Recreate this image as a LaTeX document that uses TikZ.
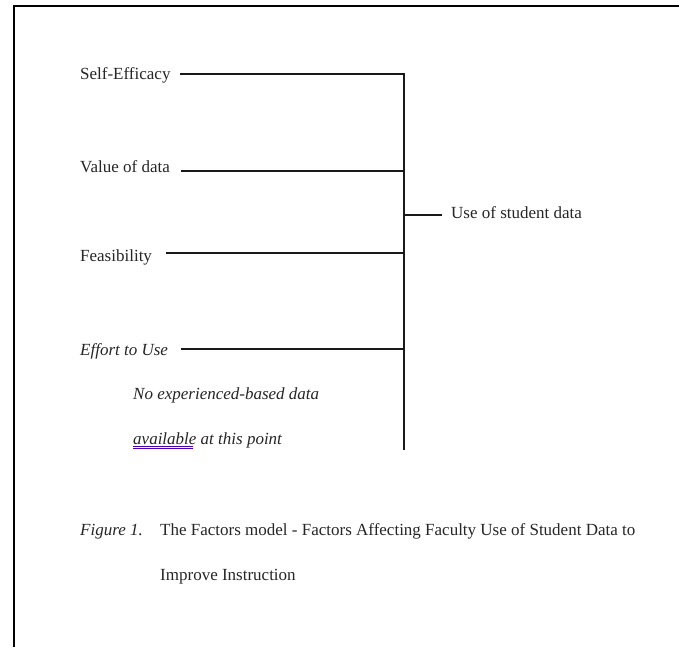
\documentclass[tikz,border=0pt]{standalone}
\usepackage{fontspec}
\setmainfont{Liberation Serif}
\begin{document}
\begin{tikzpicture}[x=1pt,y=-1pt,
  lbl/.style={anchor=base west, inner sep=0pt, font=\fontsize{17}{19}\selectfont, text=black!85},
  conn/.style={line width=2.4pt, black!90}]
\useasboundingbox (0,0) rectangle (679,647);
\fill[white] (0,0) rectangle (679,647);
\draw[line width=2.6pt] (14,647) -- (14,6) -- (679,6);
% factor labels
\node[lbl] (se) at (80,80) {Self-Efficacy};
\node[lbl] (vd) at (80,172) {Value of data};
\node[lbl] (fe) at (80,261) {Feasibility};
\node[lbl] (ef) at (80,355) {\itshape Effort to Use};
\node[lbl] (n1) at (133,399) {\itshape No experienced-based data};
\node[lbl] (n2) at (133,444) {\itshape available at this point};
\node[lbl] (us) at (451,218) {Use of student data};
% junctions
\coordinate (top) at (404,74);
\coordinate (j2) at (404,171);
\coordinate (jo) at (404,215);
\coordinate (j3) at (404,253);
\coordinate (j4) at (404,349);
\coordinate (bot) at (404,450);
\coordinate (s1) at (180,74);
\coordinate (s2) at (181,171);
\coordinate (s3) at (166,253);
\coordinate (s4) at (181,349);
\coordinate (so) at (442,215);
\draw[conn] (s1) -- (top) -- (bot);
\draw[conn] (s2) -- (j2);
\draw[conn] (s3) -- (j3);
\draw[conn] (s4) -- (j4);
\draw[conn] (jo) -- (so);
% spell-check underline
\draw[blue!60!purple, line width=0.8pt] (n2.base west) ++(0,2.5) -- ++(60,0);
\draw[blue!60!purple, line width=0.6pt] (n2.base west) ++(0,4.5) -- ++(60,0);
% caption
\node[lbl] (fig) at (80,535) {\itshape Figure 1.};
\node[lbl] (cap1) at (160,535) {The Factors model - Factors Affecting Faculty Use of Student Data to};
\node[lbl] (cap2) at (160,580) {Improve Instruction};
\end{tikzpicture}
\end{document}
